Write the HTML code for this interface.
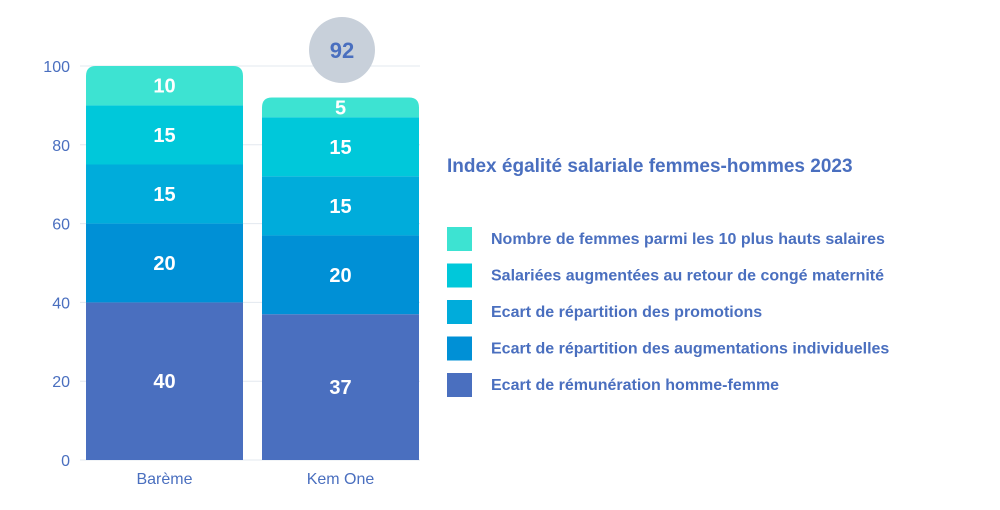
<!DOCTYPE html>
<html><head><meta charset="utf-8"><style>
body{margin:0;background:#fff;width:1000px;height:505px;overflow:hidden;font-family:"Liberation Sans",sans-serif}
</style></head><body>
<svg width="1000" height="505" id="c" font-family="Liberation Sans, sans-serif"></svg>
<script>
const categories=["Barème","Kem One"];
const seriesNames=["Ecart de rémunération homme-femme","Ecart de répartition des augmentations individuelles","Ecart de répartition des promotions","Salariées augmentées au retour de congé maternité","Nombre de femmes parmi les 10 plus hauts salaires"];
const s1=[40,37];
const s2=[20,20];
const s3=[15,15];
const s4=[15,15];
const s5=[10,5];
const totals=[100,92];
const yTicks=[0,20,40,60,80,100];
const series=[s1,s2,s3,s4,s5];
const colors=["#4a6fbf","#0090d6","#00acdb","#00c8da","#3de3d2"];
const NS="http://www.w3.org/2000/svg";
const svg=document.getElementById('c');
const y=v=>460-v*3.94;
const bx=[86,262], bw=157;
function mk(t,a,p){const e=document.createElementNS(NS,t);for(const k in a)e.setAttribute(k,a[k]);(p||svg).appendChild(e);return e;}
yTicks.forEach(t=>{
 const g=mk('line',{x1:80,x2:420,y1:y(t),y2:y(t),stroke:'#e3e8ef','stroke-width':1});
 
 
 const l=mk('text',{x:70,y:y(t)+6,'text-anchor':'end','font-size':16,fill:'#4a6fbf'});
 l.textContent=t;
 
 
});
categories.forEach((c,i)=>{
 let base=0;
 const clip=mk('clipPath',{id:'cl'+i});
 mk('path',{d:`M${bx[i]},${y(0)} V${y(totals[i])+10} Q${bx[i]},${y(totals[i])} ${bx[i]+10},${y(totals[i])} H${bx[i]+bw-10} Q${bx[i]+bw},${y(totals[i])} ${bx[i]+bw},${y(totals[i])+10} V${y(0)} Z`},clip);
 const g=mk('g',{'clip-path':`url(#cl${i})`});
 series.forEach((s,j)=>{
  const v=s[i];
  const r=mk('rect',{x:bx[i],y:y(base+v),width:bw,height:y(base)-y(base+v),fill:colors[j]},g);
  
  
  const t=mk('text',{x:bx[i]+bw/2,y:(y(base)+y(base+v))/2+7,'text-anchor':'middle','font-size':20,'font-weight':'bold',fill:'#fff'});
  t.textContent=v;
  
  
  base+=v;
 });
 const x=mk('text',{x:bx[i]+bw/2,y:484,'text-anchor':'middle','font-size':16,fill:'#4a6fbf'});
 x.textContent=c;
 
 
});
const bub=mk('circle',{cx:342,cy:50,r:33,fill:'#c8d0da'});


const bt=mk('text',{x:342,y:58,'text-anchor':'middle','font-size':22,'font-weight':'bold',fill:'#4a6fbf'});
bt.textContent=totals[1];


const title=mk('text',{x:447,y:172,'font-size':19,'font-weight':'bold',fill:'#4a6fbf'});
title.textContent="Index égalité salariale femmes-hommes 2023";


for(let j=4;j>=0;j--){
 const k=4-j, ly=227+k*36.5;
 const sq=mk('rect',{x:447,y:ly,width:25,height:24,fill:colors[j]});
 
 
 const lt=mk('text',{x:491,y:ly+17,'font-size':16,'font-weight':'bold',fill:'#4a6fbf'});
 lt.textContent=seriesNames[j];
 
 
}
</script>
</body></html>
